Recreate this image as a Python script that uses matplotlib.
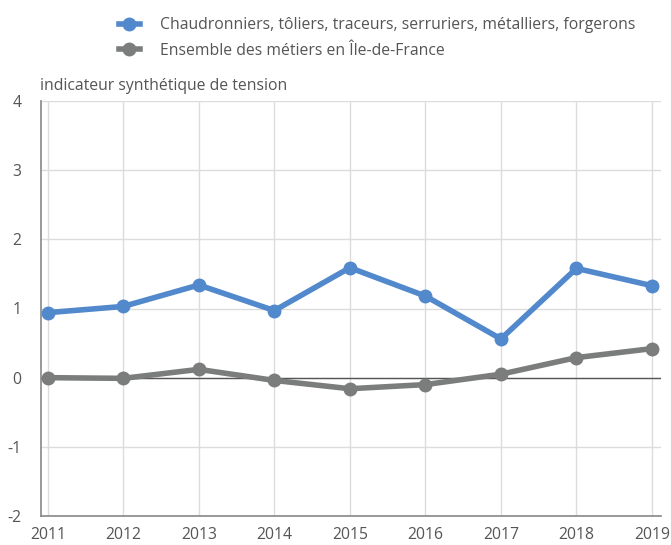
import matplotlib
matplotlib.use("Agg")
import matplotlib.pyplot as plt
from matplotlib.lines import Line2D

plt.rcParams['font.family'] = ['Open Sans', 'DejaVu Sans']
plt.rcParams['axes.unicode_minus'] = False

years = [2011, 2012, 2013, 2014, 2015, 2016, 2017, 2018, 2019]
chaudronniers = [0.94, 1.03, 1.34, 0.97, 1.59, 1.18, 0.56, 1.58, 1.33]
ensemble = [0.00, -0.01, 0.12, -0.04, -0.16, -0.10, 0.05, 0.29, 0.42]
labels = ["Chaudronniers, tôliers, traceurs, serruriers, métalliers, forgerons",
          "Ensemble des métiers en Île-de-France"]

blue = '#5288cc'
gray = '#7b7c7c'
txt = '#555555'

fig = plt.figure(figsize=(6.71, 5.45), dpi=100)
ax = fig.add_axes([41/671, 29/545, (661-41)/671, (516-101)/545])

ax.plot(years, chaudronniers, color=blue, lw=4, marker='o', ms=9, zorder=3, clip_on=False)
ax.plot(years, ensemble, color=gray, lw=4, marker='o', ms=9, zorder=3, clip_on=False)
ax.axhline(0, color='#555555', lw=1, zorder=2)

ax.set_xlim(2010.91, 2019.12)
ax.set_ylim(-2, 4)
ax.set_xticks(years)
ax.set_yticks(range(-2, 5))
ax.grid(True, color='#dcdcdc', lw=1)
ax.set_axisbelow(True)
for s in ['top', 'right']:
    ax.spines[s].set_visible(False)
for s in ['left', 'bottom']:
    ax.spines[s].set_color('#888888')
    ax.spines[s].set_linewidth(1.2)
ax.tick_params(length=0, labelsize=11.3, labelcolor=txt)
ax.tick_params(axis='x', pad=8)
ax.tick_params(axis='y', pad=14)

fig.text(40/671, 1 - 86/545, "indicateur synthétique de tension", fontsize=11.3,
         color=txt, va='center', ha='left')

handles = [Line2D([], [], color=blue, lw=4, marker='o', ms=9),
           Line2D([], [], color=gray, lw=4, marker='o', ms=9)]
fig.legend(handles, labels, loc='upper left', bbox_to_anchor=(105/671, 1 - 3/545),
           frameon=False, fontsize=11.3, labelcolor=txt, handlelength=1.3,
           labelspacing=0.6, handletextpad=1.3)

fig.savefig("out.png", dpi=100)
